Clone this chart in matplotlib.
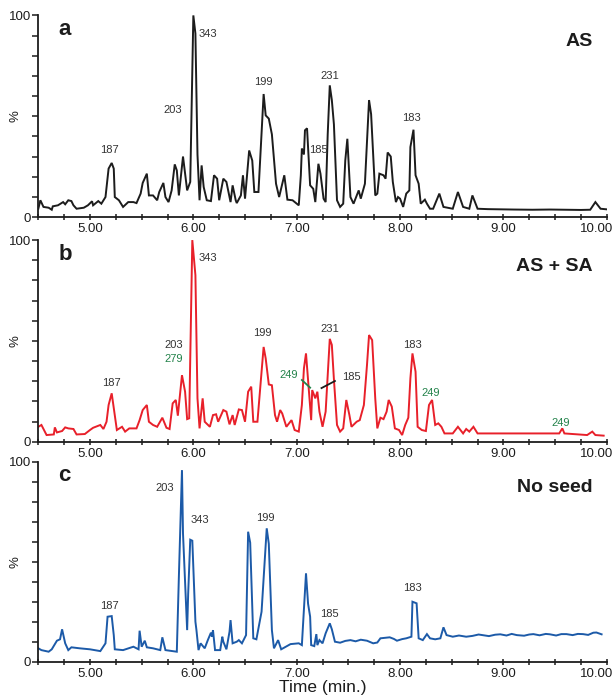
"""Total ion chromatograms for the three seeding conditions."""

import matplotlib
matplotlib.use("Agg")
import matplotlib.pyplot as plt
from matplotlib.ticker import MultipleLocator
from matplotlib.transforms import ScaledTranslation

plt.rcParams["font.family"] = ["Liberation Sans", "DejaVu Sans"]

# retention time (min) / relative intensity (%)
TIME_A = [4.50, 4.52, 4.55, 4.60, 4.63, 4.64, 4.69, 4.74, 4.76, 4.79, 4.82, 4.84, 4.87, 4.94, 4.98,
          5.02, 5.03, 5.08, 5.11, 5.15, 5.18, 5.21, 5.23, 5.24, 5.28, 5.32, 5.37, 5.42, 5.45, 5.49,
          5.51, 5.55, 5.57, 5.61, 5.65, 5.67, 5.71, 5.73, 5.76, 5.79, 5.82, 5.84, 5.86, 5.90, 5.92,
          5.94, 5.97, 6.00, 6.02, 6.04, 6.06, 6.08, 6.10, 6.13, 6.17, 6.20, 6.23, 6.25, 6.29, 6.32,
          6.36, 6.38, 6.41, 6.42, 6.46, 6.48, 6.50, 6.54, 6.57, 6.59, 6.63, 6.68, 6.70, 6.73, 6.76,
          6.80, 6.83, 6.88, 6.91, 6.96, 7.02, 7.04, 7.05, 7.07, 7.08, 7.10, 7.13, 7.16, 7.18, 7.21,
          7.23, 7.26, 7.28, 7.30, 7.32, 7.34, 7.36, 7.39, 7.42, 7.45, 7.47, 7.49, 7.52, 7.55, 7.60,
          7.62, 7.66, 7.70, 7.72, 7.76, 7.78, 7.80, 7.84, 7.86, 7.88, 7.91, 7.93, 7.96, 7.98, 8.00,
          8.03, 8.06, 8.09, 8.10, 8.13, 8.15, 8.18, 8.20, 8.24, 8.26, 8.29, 8.32, 8.38, 8.42, 8.51,
          8.56, 8.61, 8.67, 8.70, 8.75, 8.85, 8.96, 9.10, 9.28, 9.45, 9.61, 9.75, 9.84, 9.89, 9.94,
          10.00]
INT_A = [4.1, 8.3, 5.0, 4.6, 3.6, 5.3, 5.8, 7.4, 6.3, 8.3, 7.9, 5.8, 4.1, 4.6, 5.8,
         7.8, 5.8, 7.9, 6.6, 9.9, 24.0, 26.8, 24.0, 9.9, 8.3, 5.0, 7.4, 7.4, 6.9, 11.6,
         16.9, 21.5, 10.7, 10.7, 8.3, 12.4, 16.9, 9.9, 7.4, 13.2, 26.1, 23.1, 10.7, 30.0, 21.5,
         13.2, 17.4, 100.0, 91.0, 31.0, 8.3, 25.6, 14.9, 8.3, 7.9, 20.7, 19.0, 8.3, 19.0, 17.4,
         7.4, 15.7, 8.3, 6.9, 10.7, 20.7, 9.1, 33.0, 28.0, 12.4, 12.4, 61.0, 50.4, 48.8, 41.0,
         16.5, 9.9, 20.7, 8.6, 8.3, 5.8, 20.7, 34.0, 31.0, 43.0, 44.0, 15.7, 14.0, 7.4, 26.4,
         21.5, 9.1, 7.4, 41.0, 65.3, 58.0, 46.0, 8.3, 5.0, 6.6, 28.0, 38.8, 9.9, 6.6, 13.2,
         9.1, 16.5, 58.0, 51.0, 10.7, 11.6, 21.5, 20.7, 19.0, 32.0, 30.0, 17.4, 7.4, 9.9, 9.1,
         5.0, 11.6, 13.2, 34.7, 43.3, 20.7, 16.5, 6.6, 8.6, 6.6, 4.1, 4.1, 11.6, 5.0, 4.1,
         12.4, 5.0, 4.1, 10.7, 4.1, 3.9, 3.8, 3.7, 3.6, 3.7, 3.6, 3.5, 3.6, 7.4, 4.1,
         3.8]

TIME_B = [4.50, 4.53, 4.58, 4.65, 4.66, 4.68, 4.73, 4.76, 4.79, 4.84, 4.87, 4.95, 5.00, 5.03, 5.10,
          5.13, 5.16, 5.18, 5.21, 5.24, 5.26, 5.31, 5.34, 5.38, 5.45, 5.48, 5.51, 5.55, 5.57, 5.61,
          5.65, 5.70, 5.74, 5.77, 5.80, 5.83, 5.85, 5.89, 5.92, 5.94, 5.96, 5.99, 6.02, 6.04, 6.06,
          6.09, 6.11, 6.16, 6.19, 6.22, 6.24, 6.29, 6.32, 6.35, 6.38, 6.40, 6.44, 6.47, 6.50, 6.53,
          6.56, 6.58, 6.62, 6.68, 6.70, 6.73, 6.76, 6.79, 6.81, 6.84, 6.86, 6.90, 6.95, 6.98, 7.02,
          7.05, 7.07, 7.09, 7.14, 7.15, 7.18, 7.20, 7.22, 7.25, 7.28, 7.32, 7.34, 7.36, 7.39, 7.42,
          7.45, 7.48, 7.51, 7.53, 7.58, 7.61, 7.65, 7.68, 7.70, 7.73, 7.76, 7.78, 7.81, 7.84, 7.87,
          7.89, 7.92, 7.95, 7.99, 8.02, 8.05, 8.08, 8.10, 8.12, 8.15, 8.17, 8.21, 8.25, 8.28, 8.31,
          8.34, 8.37, 8.40, 8.43, 8.51, 8.56, 8.61, 8.64, 8.67, 8.71, 8.75, 8.96, 9.28, 9.54, 9.57,
          9.59, 9.81, 9.86, 9.89, 9.97]
INT_B = [7.4, 8.3, 3.3, 3.6, 7.1, 4.6, 5.3, 7.1, 6.6, 6.3, 3.6, 3.8, 5.8, 6.9, 8.3,
         6.3, 9.9, 18.2, 24.0, 13.2, 5.8, 7.4, 5.0, 6.6, 6.6, 10.7, 15.7, 18.2, 9.9, 8.3,
         7.4, 11.9, 6.9, 6.3, 19.0, 20.7, 12.9, 33.0, 24.8, 11.2, 11.6, 100.0, 82.6, 21.5, 6.6,
         21.5, 9.9, 7.4, 13.2, 13.6, 9.9, 15.7, 14.9, 8.6, 13.2, 8.3, 16.0, 15.7, 9.9, 24.8,
         27.3, 9.9, 9.9, 47.0, 41.3, 28.4, 28.0, 13.2, 9.9, 15.7, 14.0, 7.4, 10.7, 5.8, 5.0,
         18.2, 36.4, 43.8, 10.7, 25.6, 21.5, 24.8, 14.9, 7.4, 14.9, 51.0, 48.0, 31.0, 8.3, 5.0,
         6.6, 20.7, 13.2, 7.4, 9.9, 10.7, 18.2, 38.0, 52.9, 50.4, 21.5, 6.6, 11.9, 11.2, 14.9,
         20.7, 17.4, 6.6, 5.8, 3.3, 8.3, 11.9, 31.4, 43.8, 34.7, 7.4, 5.8, 5.3, 18.2, 20.7,
         8.3, 9.1, 7.4, 4.1, 4.1, 7.4, 4.1, 6.3, 5.0, 7.4, 4.1, 4.1, 4.1, 4.1, 6.6,
         4.1, 3.3, 5.0, 3.3, 3.0]

TIME_C = [4.50, 4.53, 4.60, 4.63, 4.68, 4.71, 4.73, 4.76, 4.79, 4.82, 4.90, 5.00, 5.10, 5.15, 5.17,
          5.21, 5.23, 5.24, 5.32, 5.42, 5.47, 5.48, 5.50, 5.53, 5.55, 5.61, 5.68, 5.70, 5.73, 5.84,
          5.86, 5.89, 5.90, 5.94, 5.95, 5.97, 5.99, 6.02, 6.03, 6.05, 6.07, 6.11, 6.14, 6.17, 6.18,
          6.19, 6.21, 6.26, 6.28, 6.29, 6.32, 6.35, 6.36, 6.38, 6.42, 6.44, 6.47, 6.51, 6.53, 6.55,
          6.58, 6.61, 6.66, 6.71, 6.73, 6.76, 6.78, 6.82, 6.85, 6.94, 7.02, 7.05, 7.09, 7.11, 7.13,
          7.14, 7.17, 7.19, 7.20, 7.22, 7.25, 7.28, 7.32, 7.34, 7.37, 7.42, 7.47, 7.52, 7.57, 7.62,
          7.68, 7.74, 7.78, 7.81, 7.85, 7.90, 7.94, 7.97, 8.02, 8.06, 8.11, 8.12, 8.16, 8.18, 8.22,
          8.26, 8.29, 8.34, 8.39, 8.42, 8.45, 8.51, 8.57, 8.64, 8.70, 8.76, 8.80, 8.86, 8.92, 8.97,
          9.03, 9.08, 9.13, 9.20, 9.25, 9.29, 9.35, 9.41, 9.45, 9.51, 9.56, 9.61, 9.67, 9.72, 9.77,
          9.82, 9.87, 9.90, 9.95]
INT_C = [6.7, 5.8, 5.0, 6.2, 10.5, 11.2, 16.2, 9.2, 5.8, 7.2, 6.7, 6.2, 5.3, 9.2, 22.5,
         22.8, 13.3, 6.2, 5.8, 7.5, 6.2, 15.5, 7.5, 10.5, 7.2, 6.7, 5.8, 12.2, 5.8, 5.0,
         42.5, 95.8, 64.0, 15.8, 34.0, 61.0, 60.5, 20.0, 15.8, 5.8, 9.2, 6.7, 10.8, 14.5, 12.5,
         15.8, 5.8, 5.8, 12.5, 10.0, 6.2, 15.0, 20.8, 9.2, 10.0, 10.8, 9.2, 13.3, 65.0, 59.5,
         11.7, 11.2, 25.0, 66.7, 59.0, 15.8, 6.7, 10.8, 6.2, 8.8, 9.2, 8.3, 44.2, 29.0, 22.5,
         8.3, 7.8, 13.8, 8.3, 10.8, 9.2, 14.2, 19.2, 16.2, 10.0, 9.5, 10.4, 10.8, 10.2, 11.0,
         10.5, 9.2, 9.6, 11.7, 11.9, 12.2, 11.4, 10.5, 11.3, 11.7, 12.5, 30.0, 29.2, 11.7, 10.8,
         13.8, 11.7, 11.2, 11.7, 17.2, 13.3, 12.5, 13.1, 12.5, 12.9, 13.6, 13.3, 12.8, 13.5, 13.7,
         13.1, 13.9, 13.3, 13.0, 13.6, 13.8, 13.2, 13.9, 13.7, 13.1, 13.8, 13.8, 13.3, 13.9, 13.8,
         13.4, 14.5, 14.6, 13.7]

# peak labels (m/z) placed at (time, %)
PEAKS_A = [("187", 5.19, 33), ("203", 5.80, 53), ("343", 6.14, 91), ("199", 6.68, 67),
           ("185", 7.21, 33), ("231", 7.32, 70), ("183", 8.11, 49)]
PEAKS_B = [("187", 5.21, 29), ("203", 5.81, 48), ("343", 6.14, 91), ("199", 6.67, 54),
           ("231", 7.32, 56), ("183", 8.12, 48), ("185", 7.53, 32)]
GREEN_B = [("279", 5.81, 41), ("249", 6.92, 33), ("249", 8.30, 24), ("249", 9.55, 9.5)]
PEAKS_C = [("203", 5.72, 87), ("343", 6.06, 71), ("199", 6.70, 72), ("187", 5.19, 28),
           ("185", 7.32, 24), ("183", 8.12, 37)]

BLACK = "#1c1c1c"
RED = "#e8202a"
BLUE = "#1c5aa8"
GREEN = "#23824a"
TEXT = "#333333"


def setup_axis(ax):
    ax.set_xlim(4.5, 10.0)
    ax.set_ylim(0, 100)
    for side in ("top", "right"):
        ax.spines[side].set_visible(False)
    for side in ("left", "bottom"):
        ax.spines[side].set_linewidth(1.3)
        ax.spines[side].set_color(BLACK)
    ax.xaxis.set_minor_locator(MultipleLocator(0.25))
    ax.set_xticks([5, 6, 7, 8, 9, 10], ["5.00", "6.00", "7.00", "8.00", "9.00", "10.00"])
    ax.set_yticks([0, 50, 100], ["0", "", "100"])
    ax.yaxis.set_minor_locator(MultipleLocator(10))
    ax.tick_params(axis="x", which="both", direction="inout", length=5, width=1.1,
                   labelsize=9.5, pad=2, colors=BLACK)
    ax.tick_params(axis="x", which="minor", length=4)
    ax.tick_params(axis="y", which="both", direction="out", length=4, width=1.1,
                   labelsize=9.5, pad=1, colors=BLACK)
    # keep the last time label inside the figure
    last = ax.get_xticklabels()[-1]
    last.set_transform(last.get_transform() + ScaledTranslation(-7 / 72, 0, fig.dpi_scale_trans))
    ax.set_ylabel("%", fontsize=9.5, color=BLACK)
    ax.yaxis.set_label_coords(-0.03, 0.5)


def put_labels(ax, peaks, color=TEXT):
    for text, t, v in peaks:
        ax.text(t, v, text, ha="center", va="center", fontsize=8, color=color)


fig = plt.figure(figsize=(6.16, 7.0), dpi=100)
ax_a = fig.add_axes([0.0622, 0.690, 0.9228, 0.288])
ax_b = fig.add_axes([0.0622, 0.369, 0.9228, 0.288])
ax_c = fig.add_axes([0.0622, 0.0547, 0.9228, 0.2857])

for ax, t, y, col in ((ax_a, TIME_A, INT_A, BLACK), (ax_b, TIME_B, INT_B, RED),
                      (ax_c, TIME_C, INT_C, BLUE)):
    setup_axis(ax)
    ax.plot(t, y, color=col, lw=1.4, solid_joinstyle="miter")

put_labels(ax_a, PEAKS_A)
put_labels(ax_b, PEAKS_B)
put_labels(ax_b, GREEN_B, GREEN)
put_labels(ax_c, PEAKS_C)

# leader lines for the overlapping 249 / 185 peaks
ax_b.plot([7.05, 7.13], [30.6, 26.8], color=GREEN, lw=1.3)
ax_b.plot([7.24, 7.37], [26.6, 30.1], color=BLACK, lw=1.3)

for ax, letter, name in ((ax_a, "a", "AS"), (ax_b, "b", "AS + SA"), (ax_c, "c", "No seed")):
    ax.text(0.035, 0.93, letter, transform=ax.transAxes, fontsize=16, fontweight="bold",
            ha="left", va="center", color=BLACK)
    ax.text(9.86, 87, name, fontsize=14, fontweight="bold", ha="right", va="center",
            color=BLACK)

ax_c.set_xlabel("Time (min.)", fontsize=12.5, labelpad=0, color=BLACK)

fig.savefig("out.png", dpi=100)
